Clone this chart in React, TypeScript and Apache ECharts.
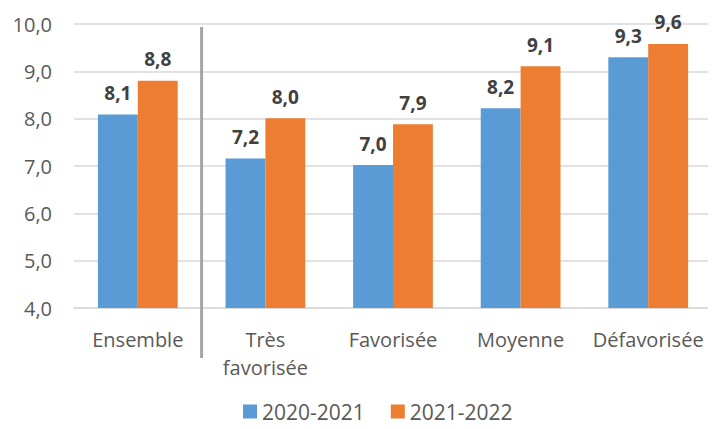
import React, { useEffect, useRef } from "react";
import * as echarts from "echarts";

const categories = ["Ensemble", "Très\nfavorisée", "Favorisée", "Moyenne", "Défavorisée"];
const series2021 = [8.09, 7.16, 7.02, 8.22, 9.3];
const series2022 = [8.8, 8.01, 7.88, 9.11, 9.58];
const seriesNames = ["2020-2021", "2021-2022"];
const yTicks = { min: 4, max: 10, interval: 1 };

const FONT = "'Open Sans', 'Noto Sans', sans-serif";
const fmt = (v: number) => v.toFixed(1).replace(".", ",");

export default function App() {
  const ref = useRef<HTMLDivElement>(null);
  useEffect(() => {
    if (!ref.current) return;
    const chart = echarts.init(ref.current, null, { renderer: "svg" });
    const labelStyle = {
      show: true,
      position: "top" as const,
      distance: 12,
      fontFamily: FONT,
      fontSize: 19,
      fontWeight: "bold" as const,
      color: "#404040",
      formatter: (p: any) => fmt(p.value),
    };
    chart.setOption({
      animation: false,
      textStyle: { fontFamily: FONT },
      grid: { left: 74, right: 4, top: 24, bottom: 121, containLabel: false },
      legend: {
        bottom: 2,
        left: 238,
        itemWidth: 14,
        itemHeight: 14,
        itemGap: 26,
        icon: "rect",
        textStyle: { fontFamily: FONT, fontSize: 21, color: "#595959" },
        data: seriesNames,
      },
      xAxis: {
        type: "category",
        data: categories,
        axisLine: { show: true, lineStyle: { color: "#D9D9D9", width: 1.5 } },
        axisTick: { show: false },
        axisLabel: {
          fontFamily: FONT,
          fontSize: 20,
          color: "#595959",
          margin: 17,
          lineHeight: 28,
          interval: 0,
        },
      },
      yAxis: {
        type: "value",
        min: yTicks.min,
        max: yTicks.max,
        interval: yTicks.interval,
        axisLine: { show: false },
        axisTick: { show: false },
        splitLine: { lineStyle: { color: "#D9D9D9", width: 1.5 } },
        axisLabel: {
          fontFamily: FONT,
          fontSize: 20,
          color: "#595959",
          margin: 22,
          formatter: (v: number) => fmt(v),
        },
      },
      series: [
        {
          name: seriesNames[0],
          type: "bar",
          data: series2021,
          itemStyle: { color: "#5B9BD5" },
          barGap: "0%",
          barCategoryGap: "37.5%",
          label: labelStyle,
        },
        {
          name: seriesNames[1],
          type: "bar",
          data: series2022,
          itemStyle: { color: "#ED7D31" },
          barGap: "0%",
          barCategoryGap: "37.5%",
          label: labelStyle,
        },
      ],
    });
    const x0 = chart.convertToPixel({ xAxisIndex: 0 }, 0) as number;
    const x1 = chart.convertToPixel({ xAxisIndex: 0 }, 1) as number;
    const xs = (x0 + x1) / 2;
    const yTop = (chart.convertToPixel({ yAxisIndex: 0 }, yTicks.max) as number) + 3;
    chart.setOption({
      graphic: [
        {
          type: "line",
          shape: { x1: xs, y1: yTop, x2: xs, y2: 358 },
          style: { stroke: "#A5A5A5", lineWidth: 3 },
          z: 10,
        },
      ],
    });
    return () => chart.dispose();
  }, []);
  return <div ref={ref} style={{ width: 716, height: 429, margin: -8 }} />;
}
